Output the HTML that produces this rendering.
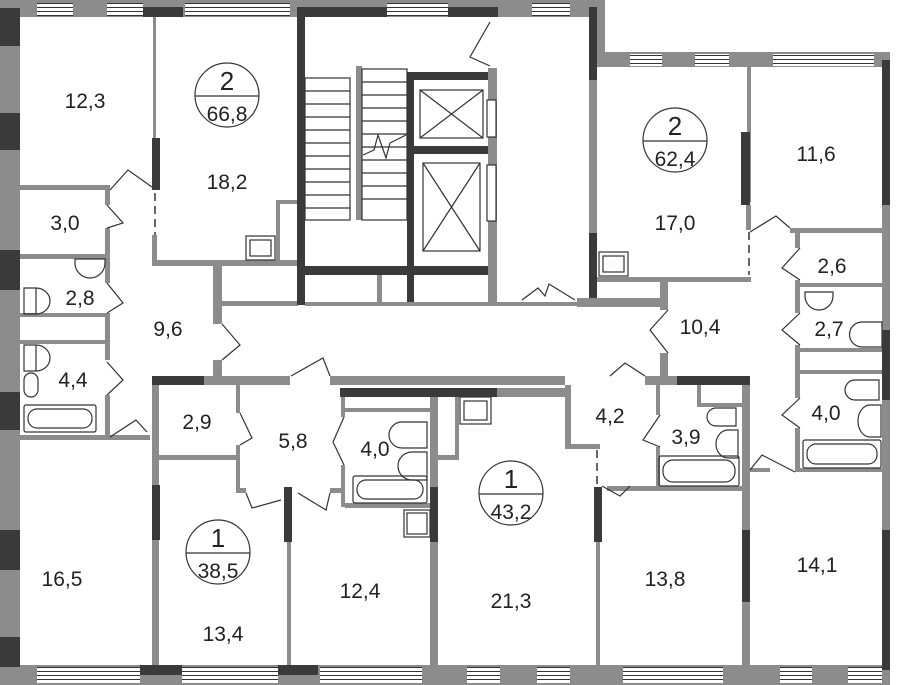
<!DOCTYPE html>
<html><head><meta charset="utf-8"><style>
body{margin:0;background:#fff}
svg{display:block}
text{font-family:"Liberation Sans",sans-serif;font-size:21px;fill:#222;text-anchor:middle}
.g{fill:#8c8c8c}.d{fill:#3a3a3a}.w{fill:#fff;stroke:#333;stroke-width:1}
.l{stroke:#333;stroke-width:1.2;fill:none}
</style></head><body>
<svg width="907" height="685" viewBox="0 0 907 685" xmlns="http://www.w3.org/2000/svg">
<defs>
<pattern id="win" width="10" height="4" patternUnits="userSpaceOnUse">
<rect width="10" height="4" fill="#fff"/><rect y="3" width="10" height="1" fill="#333"/>
</pattern>
</defs>
<rect class="g" x="0" y="0" width="605" height="17"/>
<rect class="g" x="597" y="0" width="8" height="60"/>
<rect class="g" x="597" y="52" width="293" height="15"/>
<rect class="g" x="0" y="0" width="20" height="685"/>
<rect class="g" x="882" y="52" width="8" height="633"/>
<rect class="g" x="0" y="665" width="890" height="20"/>
<rect class="d" x="0" y="8" width="20" height="38"/>
<rect class="d" x="0" y="113" width="20" height="37"/>
<rect class="d" x="0" y="250" width="20" height="40"/>
<rect class="d" x="0" y="392" width="20" height="38"/>
<rect class="d" x="0" y="530" width="20" height="40"/>
<rect class="d" x="0" y="637" width="20" height="30"/>
<rect class="d" x="882" y="60" width="8" height="145"/>
<rect class="d" x="882" y="330" width="8" height="70"/>
<rect class="d" x="882" y="530" width="8" height="140"/>
<rect class="d" x="143" y="7" width="40" height="10"/>
<rect class="d" x="298" y="7" width="89" height="10"/>
<rect class="d" x="448" y="7" width="50" height="10"/>
<rect x="37" y="3" width="36" height="13" fill="url(#win)"/>
<rect x="107" y="3" width="36" height="13" fill="url(#win)"/>
<rect x="185" y="3" width="105" height="13" fill="url(#win)"/>
<rect x="387" y="3" width="61" height="13" fill="url(#win)"/>
<rect x="532" y="3" width="38" height="13" fill="url(#win)"/>
<rect x="630" y="54" width="32" height="12" fill="url(#win)"/>
<rect x="695" y="54" width="34" height="12" fill="url(#win)"/>
<rect x="773" y="54" width="101" height="12" fill="url(#win)"/>
<rect class="d" x="140" y="665" width="42" height="10"/>
<rect class="d" x="278" y="665" width="40" height="10"/>
<rect x="37" y="667" width="103" height="16" fill="url(#win)"/>
<rect x="182" y="667" width="96" height="16" fill="url(#win)"/>
<rect x="320" y="667" width="102" height="16" fill="url(#win)"/>
<rect x="467" y="667" width="33" height="16" fill="url(#win)"/>
<rect x="537" y="667" width="33" height="16" fill="url(#win)"/>
<rect x="623" y="667" width="100" height="16" fill="url(#win)"/>
<rect x="780" y="667" width="32" height="16" fill="url(#win)"/>
<rect x="848" y="667" width="34" height="16" fill="url(#win)"/>
<rect class="g" x="153" y="17" width="3" height="122"/>
<rect class="d" x="152" y="138" width="8" height="52"/>
<line x1="155" y1="193" x2="155" y2="235" stroke="#333" stroke-width="1.5" stroke-dasharray="8,5"/>
<rect class="g" x="152" y="235" width="5" height="30"/>
<rect class="g" x="152" y="260" width="146" height="6"/>
<rect class="g" x="276" y="200" width="22" height="4"/>
<rect class="g" x="276" y="200" width="4" height="65"/>
<rect class="g" x="20" y="185" width="90" height="5"/>
<rect class="g" x="20" y="254" width="90" height="5"/>
<rect class="g" x="20" y="313" width="90" height="4"/>
<rect class="g" x="20" y="340" width="90" height="4"/>
<rect class="g" x="20" y="435" width="130" height="5"/>
<rect class="g" x="105" y="190" width="5" height="15"/>
<rect class="g" x="105" y="228" width="5" height="55"/>
<rect class="g" x="105" y="313" width="5" height="47"/>
<rect class="g" x="105" y="395" width="5" height="45"/>
<rect class="g" x="213" y="262" width="9" height="62"/>
<rect class="g" x="213" y="360" width="9" height="20"/>
<rect class="g" x="222" y="301" width="76" height="5"/>
<rect class="d" x="297" y="7" width="8" height="298"/>
<rect class="d" x="407" y="72" width="7" height="233"/>
<rect class="d" x="414" y="72" width="82" height="8"/>
<rect class="d" x="414" y="146" width="82" height="8"/>
<rect class="d" x="305" y="266" width="191" height="9"/>
<rect class="g" x="488" y="68" width="9" height="237"/>
<rect class="g" x="377" y="275" width="5" height="30"/>
<rect class="g" x="305" y="302" width="285" height="4"/>
<rect class="g" x="356" y="66" width="6" height="154"/>
<g class="l">
<rect x="305" y="78" width="45" height="142"/>
<rect x="362" y="69" width="45" height="151"/>
<path d="M305 91H350M305 104H350M305 117H350M305 130H350M305 143H350M305 156H350M305 169H350M305 182H350M305 195H350M305 208H350"/>
<path d="M362 82H407M362 95H407M362 108H407M362 121H407M362 134H407M362 147H407M362 160H407M362 173H407M362 186H407M362 199H407"/>
<path d="M363 155L374 150L378 135L386 158L390 143L406 135"/>
<rect x="420" y="90" width="63" height="48"/><path d="M420 90L483 138M483 90L420 138"/>
<rect x="423" y="163" width="57" height="88"/><path d="M423 163L480 251M480 163L423 251"/>
<rect x="487" y="100" width="9" height="37" fill="#fff"/>
<rect x="487" y="165" width="9" height="56" fill="#fff"/>
<path d="M490 22L470 57L490 66"/>
<path d="M522 300L538 288L545 296L549 284L575 300"/>
</g>
<rect class="d" x="589" y="7" width="8" height="73"/>
<rect class="g" x="589" y="80" width="8" height="153"/>
<rect class="d" x="589" y="233" width="8" height="74"/>
<rect class="g" x="747" y="67" width="4" height="135"/>
<rect class="d" x="741" y="132" width="9" height="73"/>
<rect class="g" x="746" y="205" width="5" height="25"/>
<line x1="749" y1="232" x2="749" y2="275" stroke="#333" stroke-width="1.5" stroke-dasharray="8,5"/>
<rect class="g" x="597" y="277" width="154" height="5"/>
<rect class="g" x="660" y="282" width="8" height="28"/>
<rect class="g" x="577" y="298" width="91" height="9"/>
<rect class="g" x="790" y="228" width="92" height="5"/>
<rect class="g" x="795" y="233" width="5" height="15"/>
<rect class="g" x="795" y="280" width="5" height="33"/>
<rect class="g" x="795" y="345" width="5" height="53"/>
<rect class="g" x="795" y="428" width="5" height="44"/>
<rect class="g" x="800" y="283" width="82" height="4"/>
<rect class="g" x="800" y="348" width="82" height="4"/>
<rect class="g" x="800" y="370" width="82" height="4"/>
<rect class="g" x="795" y="468" width="87" height="4"/>
<rect class="g" x="660" y="353" width="8" height="27"/>
<rect class="d" x="152" y="376" width="52" height="9"/>
<rect class="g" x="204" y="376" width="86" height="9"/>
<rect class="g" x="330" y="376" width="235" height="9"/>
<rect class="d" x="340" y="388" width="157" height="9"/>
<rect class="g" x="497" y="388" width="68" height="9"/>
<rect class="g" x="645" y="376" width="32" height="9"/>
<rect class="d" x="677" y="376" width="73" height="9"/>
<rect class="g" x="152" y="385" width="7" height="280"/>
<rect class="d" x="152" y="485" width="8" height="55"/>
<rect class="g" x="159" y="455" width="78" height="5"/>
<rect class="g" x="236" y="385" width="4" height="28"/>
<rect class="g" x="236" y="445" width="4" height="45"/>
<rect class="g" x="236" y="488" width="10" height="5"/>
<rect class="g" x="330" y="488" width="14" height="5"/>
<rect class="d" x="284" y="487" width="8" height="55"/>
<rect class="g" x="287" y="542" width="4" height="123"/>
<rect class="g" x="341" y="397" width="4" height="20"/>
<rect class="g" x="341" y="465" width="4" height="42"/>
<rect class="g" x="345" y="503" width="85" height="5"/>
<rect class="g" x="345" y="408" width="85" height="4"/>
<rect class="g" x="430" y="397" width="8" height="268"/>
<rect class="d" x="430" y="487" width="8" height="55"/>
<rect class="g" x="455" y="397" width="4" height="62"/>
<rect class="g" x="438" y="455" width="21" height="5"/>
<rect class="g" x="565" y="385" width="6" height="63"/>
<rect class="g" x="565" y="444" width="35" height="5"/>
<line x1="597" y1="450" x2="597" y2="485" stroke="#333" stroke-width="1.5" stroke-dasharray="8,5"/>
<rect class="d" x="594" y="487" width="8" height="55"/>
<rect class="g" x="596" y="542" width="4" height="123"/>
<rect class="g" x="607" y="486" width="143" height="5"/>
<rect class="g" x="656" y="385" width="4" height="30"/>
<rect class="g" x="656" y="447" width="4" height="42"/>
<rect class="g" x="742" y="385" width="8" height="280"/>
<rect class="d" x="742" y="530" width="8" height="72"/>
<rect class="g" x="697" y="385" width="4" height="22"/>
<rect class="g" x="697" y="403" width="45" height="4"/>
<rect class="g" x="750" y="468" width="20" height="4"/>
<g class="l">
<rect x="24" y="405" width="72" height="27" rx="2"/><rect x="28" y="409" width="64" height="19" rx="9"/>
<rect x="24" y="373" width="14" height="24" rx="7"/>
<path d="M24 345h12v26h-12zM36 345a14 13 0 0 1 0 26"/>
<path d="M24 288h12v26h-12zM36 288a14 13 0 0 1 0 26"/>
<path d="M75 259h30v4a15 15 0 0 1-30 0z"/>
<rect x="246" y="236" width="29" height="24"/><rect x="250" y="240" width="21" height="16"/>
<rect x="353" y="476" width="74" height="27" rx="2"/><rect x="357" y="480" width="66" height="19" rx="9"/>
<path d="M402 422h25v26h-25a13 13 0 0 1 0-26z"/>
<path d="M412 452h15v28h-15a14 14 0 0 1 0-28z"/>
<rect x="404" y="510" width="26" height="27"/><rect x="407" y="513" width="20" height="21"/>
<rect x="460" y="397" width="31" height="27"/><rect x="464" y="401" width="23" height="19"/>
<rect x="659" y="456" width="80" height="30" rx="2"/><rect x="663" y="460" width="72" height="22" rx="10"/>
<path d="M716 408h20v18h-20a9 9 0 0 1 0-18z"/>
<path d="M728 430h10v28h-10a12 14 0 0 1 0-28z"/>
<rect x="803" y="440" width="78" height="28" rx="2"/><rect x="807" y="444" width="70" height="20" rx="9"/>
<path d="M855 380h24v20h-24a10 10 0 0 1 0-20z"/>
<path d="M870 405h11v32h-11a12 16 0 0 1 0-32z"/>
<path d="M862 322h20v25h-20a12 12 0 0 1 0-25z"/>
<path d="M805 292h28v4a14 14 0 0 1-28 0z"/>
<rect x="599" y="252" width="29" height="24"/><rect x="603" y="256" width="21" height="16"/>
<path d="M110 190L128 170L152 187"/><path d="M107 205L123 223L107 228"/>
<path d="M107 283L123 303L107 313"/><path d="M107 362L123 380L107 395"/>
<path d="M110 437L136 420L147 432"/><path d="M222 324L240 345L222 360"/>
<path d="M240 413L252 438L240 445"/><path d="M291 376L323 358L330 376"/>
<path d="M344 417L333 442L344 465"/><path d="M246 493L252 508L281 500"/>
<path d="M298 493L326 510L330 493"/><path d="M602 486L620 496L630 486"/>
<path d="M610 376L625 363L645 376"/><path d="M660 415L643 440L660 447"/>
<path d="M668 310L650 330L668 353"/><path d="M750 232L776 216L790 228"/>
<path d="M800 248L782 268L800 280"/><path d="M800 313L782 330L800 345"/>
<path d="M800 398L782 415L800 428"/><path d="M750 470L762 455L795 472"/>
</g>
<g class="l" stroke-width="1">
<circle cx="227" cy="95" r="32"/><line x1="195" y1="96" x2="259" y2="96"/>
<circle cx="675" cy="140" r="32"/><line x1="643" y1="141" x2="707" y2="141"/>
<circle cx="218" cy="552" r="32"/><line x1="186" y1="553" x2="250" y2="553"/>
<circle cx="511" cy="493" r="32"/><line x1="479" y1="494" x2="543" y2="494"/>
</g>
<text x="227" y="90" style="font-size:26px">2</text><text x="227" y="121">66,8</text>
<text x="675" y="135" style="font-size:26px">2</text><text x="675" y="166">62,4</text>
<text x="218" y="547" style="font-size:26px">1</text><text x="218" y="578">38,5</text>
<text x="511" y="488" style="font-size:26px">1</text><text x="511" y="519">43,2</text>
<text x="85" y="108">12,3</text><text x="227" y="189">18,2</text>
<text x="65" y="230">3,0</text><text x="80" y="305">2,8</text>
<text x="168" y="336">9,6</text><text x="73" y="387">4,4</text>
<text x="197" y="429">2,9</text><text x="293" y="448">5,8</text>
<text x="375" y="456">4,0</text><text x="62" y="586">16,5</text>
<text x="223" y="641">13,4</text><text x="360" y="598">12,4</text>
<text x="511" y="608">21,3</text><text x="610" y="423">4,2</text>
<text x="686" y="444">3,9</text><text x="665" y="586">13,8</text>
<text x="817" y="572">14,1</text><text x="675" y="230">17,0</text>
<text x="816" y="161">11,6</text><text x="832" y="273">2,6</text>
<text x="700" y="334">10,4</text><text x="829" y="336">2,7</text>
<text x="826" y="420">4,0</text>
</svg>
</body></html>
